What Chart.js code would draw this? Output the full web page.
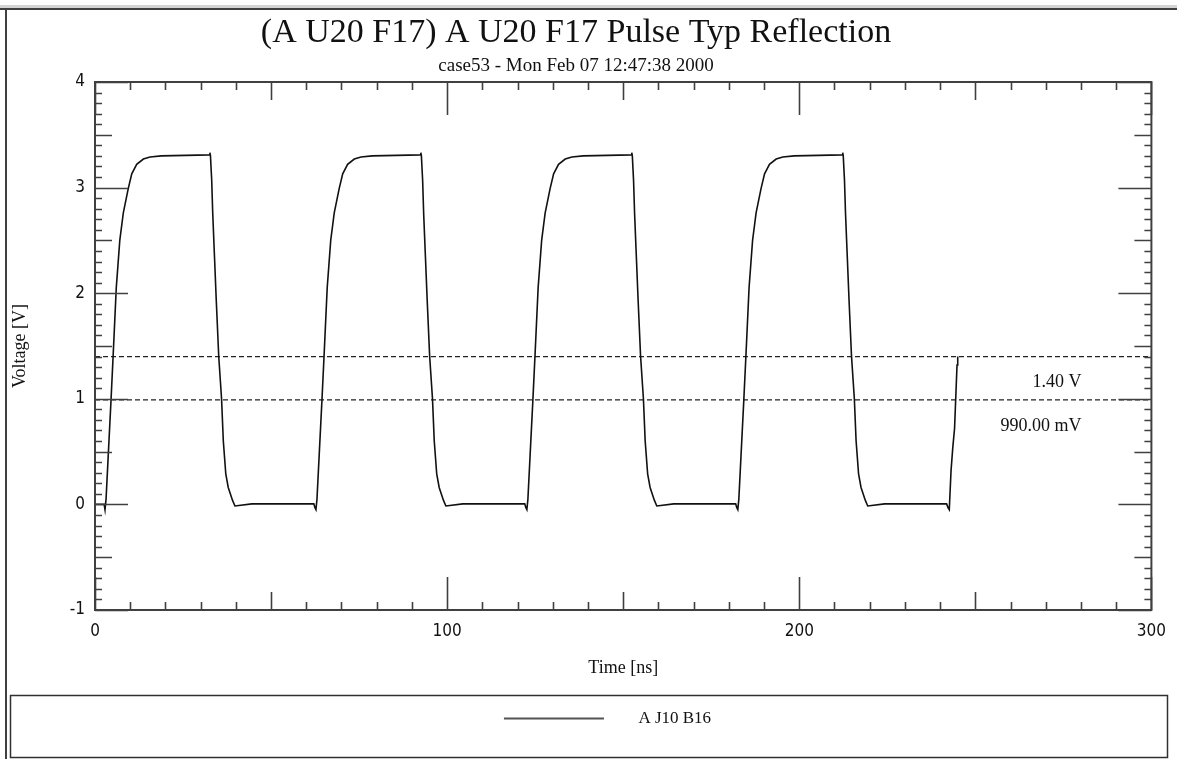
<!DOCTYPE html>
<html><head><meta charset="utf-8">
<script src="https://cdn.jsdelivr.net/npm/chart.js@4.4.1/dist/chart.umd.min.js"></script>
<style>html,body{margin:0;padding:0;background:#fff;overflow:hidden}</style>
</head><body>
<canvas id="c" width="1177" height="759"></canvas>
<script>
// ---------------- data ----------------
const chartTitle = '(A U20 F17) A U20 F17 Pulse Typ Reflection';
const chartSubtitle = 'case53 - Mon Feb 07 12:47:38 2000';
const xAxisTitle = 'Time [ns]';
const yAxisTitle = 'Voltage [V]';
const seriesName = 'A J10 B16';

const timeNs = [
  0, 2.6,
  2.84, 3.14, 3.74, 4.54, 5.14, 6.04, 7.04, 8.04, 9.44, 10.44, 11.84, 13.74, 15.64, 18.84,
  32.54, 32.64, 32.79, 33.14, 33.44, 33.94, 34.44, 35.14, 35.94, 36.44, 37.14, 37.84, 39.04, 39.74, 40.84, 44.54, 62.14, 62.44,
  62.74, 63.04, 63.64, 64.44, 65.04, 65.94, 66.94, 67.94, 69.34, 70.34, 71.74, 73.64, 75.54, 78.74,
  92.44, 92.54, 92.69, 93.04, 93.34, 93.84, 94.34, 95.04, 95.84, 96.34, 97.04, 97.74, 98.94, 99.64, 100.74, 104.44, 122.04, 122.34,
  122.64, 122.94, 123.54, 124.34, 124.94, 125.84, 126.84, 127.84, 129.24, 130.24, 131.64, 133.54, 135.44, 138.64,
  152.34, 152.44, 152.59, 152.94, 153.24, 153.74, 154.24, 154.94, 155.74, 156.24, 156.94, 157.64, 158.84, 159.54, 160.64, 164.34, 181.94, 182.24,
  182.54, 182.84, 183.44, 184.24, 184.84, 185.74, 186.74, 187.74, 189.14, 190.14, 191.54, 193.44, 195.34, 198.54,
  212.24, 212.34, 212.49, 212.84, 213.14, 213.64, 214.14, 214.84, 215.64, 216.14, 216.84, 217.54, 218.74, 219.44, 220.54, 224.24, 241.84, 242.24,
  242.6, 243.1, 243.6, 244.1, 244.4, 244.8, 245.0
];
const voltageV = [
  0, 0,
  -0.05, 0.05, 0.45, 0.98, 1.40, 2.05, 2.50, 2.76, 2.99, 3.13, 3.22, 3.27, 3.29, 3.30,
  3.31, 3.33, 3.30, 3.07, 2.75, 2.34, 1.93, 1.40, 1.00, 0.60, 0.29, 0.16, 0.04, -0.015, -0.01, 0.005, 0.005, -0.03,
  -0.05, 0.05, 0.45, 0.98, 1.40, 2.05, 2.50, 2.76, 2.99, 3.13, 3.22, 3.27, 3.29, 3.30,
  3.31, 3.33, 3.30, 3.07, 2.75, 2.34, 1.93, 1.40, 1.00, 0.60, 0.29, 0.16, 0.04, -0.015, -0.01, 0.005, 0.005, -0.03,
  -0.05, 0.05, 0.45, 0.98, 1.40, 2.05, 2.50, 2.76, 2.99, 3.13, 3.22, 3.27, 3.29, 3.30,
  3.31, 3.33, 3.30, 3.07, 2.75, 2.34, 1.93, 1.40, 1.00, 0.60, 0.29, 0.16, 0.04, -0.015, -0.01, 0.005, 0.005, -0.03,
  -0.05, 0.05, 0.45, 0.98, 1.40, 2.05, 2.50, 2.76, 2.99, 3.13, 3.22, 3.27, 3.29, 3.30,
  3.31, 3.33, 3.30, 3.07, 2.75, 2.34, 1.93, 1.40, 1.00, 0.60, 0.29, 0.16, 0.04, -0.015, -0.01, 0.005, 0.005, -0.03,
  -0.05, 0.32, 0.54, 0.72, 0.98, 1.32, 1.40
];
const thresholdValues = [1.40, 0.99];
const thresholdLabels = ['1.40 V', '990.00 mV'];
const xRange = [0, 300];
const yRange = [-1, 4];
const xLabelStep = 100;
const yLabelStep = 1;

// ---------------- styles ----------------
const SERIF = '"Liberation Serif", "Times New Roman", serif';
const NARROW = '"Liberation Sans Narrow", "DejaVu Sans Condensed", sans-serif';
const AXIS_COLOR = '#404040';

// legend line sample (image used as point style)
const legendSample = document.createElement('canvas');
legendSample.width = 189; legendSample.height = 4;
(function(){
  const g = legendSample.getContext('2d');
  g.strokeStyle = '#1a1a1a'; g.lineWidth = 1.5;
  g.beginPath(); g.moveTo(63, 2); g.lineTo(163, 2); g.stroke();
})();

const decorPlugin = {
  id: 'decor',
  beforeDraw(chart) {
    const ctx = chart.ctx;
    ctx.save();
    ctx.fillStyle = '#ffffff';
    ctx.fillRect(0, 0, chart.width, chart.height);
    ctx.fillStyle = '#d4d4d4';
    ctx.fillRect(0, 5, chart.width, 3);
    ctx.fillStyle = '#404040';
    ctx.fillRect(0, 8, chart.width, 2);
    ctx.fillRect(5, 8, 2, chart.height - 8);
    ctx.restore();
  },
  afterDraw(chart) {
    const {ctx, chartArea: a, scales: {x, y}} = chart;
    ctx.save();
    // plot frame
    ctx.strokeStyle = AXIS_COLOR;
    ctx.lineWidth = 2;
    ctx.strokeRect(a.left, a.top, a.right - a.left, a.bottom - a.top);
    // inward ticks
    ctx.beginPath();
    const nx = Math.round((x.max - x.min) / 10);
    for (let i = 0; i <= nx; i++) {
      const v = x.min + i * 10;
      const px = Math.round(x.getPixelForValue(v)) + 0.5;
      const len = (i % 10 === 0) ? 33 : (i % 5 === 0 ? 18 : 8);
      ctx.moveTo(px, a.bottom); ctx.lineTo(px, a.bottom - len);
      ctx.moveTo(px, a.top); ctx.lineTo(px, a.top + len);
    }
    const ny = Math.round((y.max - y.min) / 0.1);
    for (let i = 0; i <= ny; i++) {
      const v = y.min + i * 0.1;
      const py = Math.round(y.getPixelForValue(v)) + 0.5;
      const len = (i % 10 === 0) ? 33 : (i % 5 === 0 ? 17 : 7);
      ctx.moveTo(a.left, py); ctx.lineTo(a.left + len, py);
      ctx.moveTo(a.right, py); ctx.lineTo(a.right - len, py);
    }
    ctx.lineWidth = 1.6;
    ctx.stroke();
    // threshold labels
    ctx.fillStyle = '#111';
    ctx.font = '18px ' + SERIF;
    ctx.textAlign = 'right';
    ctx.textBaseline = 'middle';
    thresholdValues.forEach((v, i) => {
      ctx.fillText(thresholdLabels[i], a.right - 70, y.getPixelForValue(v) + 26);
    });
    // legend frame
    const lg = chart.legend;
    if (lg && lg.legendHitBoxes && lg.legendHitBoxes.length) {
      const hb = lg.legendHitBoxes[0];
      const cy = hb.top + hb.height / 2;
      ctx.strokeStyle = '#303030';
      ctx.lineWidth = 1.5;
      ctx.strokeRect(10.5, cy - 23, chart.width - 20, 62);
    }
    ctx.restore();
  }
};

new Chart(document.getElementById('c'), {
  type: 'line',
  data: {
    datasets: [
      {
        label: seriesName,
        data: timeNs.map((t, i) => ({x: t, y: voltageV[i]})),
        borderColor: '#111',
        backgroundColor: '#111',
        borderWidth: 1.6,
        pointRadius: 0,
        tension: 0,
        fill: false,
        pointStyle: legendSample
      },
      ...thresholdValues.map((v, i) => ({
        label: thresholdLabels[i],
        data: [{x: xRange[0], y: v}, {x: xRange[1], y: v}],
        borderColor: '#222',
        borderWidth: 1.2,
        borderDash: [5, 3],
        pointRadius: 0,
        fill: false
      }))
    ]
  },
  options: {
    responsive: false,
    animation: false,
    devicePixelRatio: 1,
    layout: {padding: {top: 10, right: 25, bottom: 22, left: 0}},
    plugins: {
      title: {
        display: true, text: chartTitle, color: '#111',
        font: {family: SERIF, size: 34, weight: 'normal', lineHeight: 1.2},
        padding: {top: 3, bottom: 0}
      },
      subtitle: {
        display: true, text: chartSubtitle, color: '#111',
        font: {family: SERIF, size: 19, weight: 'normal', lineHeight: 1.2},
        padding: {top: 1, bottom: 4.4}
      },
      legend: {
        display: true, position: 'bottom',
        labels: {
          color: '#111',
          font: {family: SERIF, size: 17},
          padding: 10,
          usePointStyle: true,
          pointStyleWidth: 189,
          filter: (item) => item.datasetIndex === 0
        }
      },
      tooltip: {enabled: false}
    },
    scales: {
      x: {
        type: 'linear', min: xRange[0], max: xRange[1],
        grid: {display: false, drawTicks: false},
        border: {display: false},
        ticks: {stepSize: xLabelStep, color: '#111', padding: 11, maxRotation: 0,
                font: {family: NARROW, size: 17}},
        title: {display: true, text: xAxisTitle, color: '#111',
                font: {family: SERIF, size: 18}, padding: {top: 4, bottom: 21}},
        afterFit: (s) => { s.height = 90; }
      },
      y: {
        type: 'linear', min: yRange[0], max: yRange[1],
        grid: {display: false, drawTicks: false},
        border: {display: false},
        ticks: {stepSize: yLabelStep, color: '#111', padding: 10,
                font: {family: NARROW, size: 17}},
        title: {display: true, text: yAxisTitle, color: '#111',
                font: {family: SERIF, size: 18}, padding: {top: 9, bottom: 4}},
        afterFit: (s) => { s.width = 95; }
      }
    }
  },
  plugins: [decorPlugin]
});
</script>
</body></html>
